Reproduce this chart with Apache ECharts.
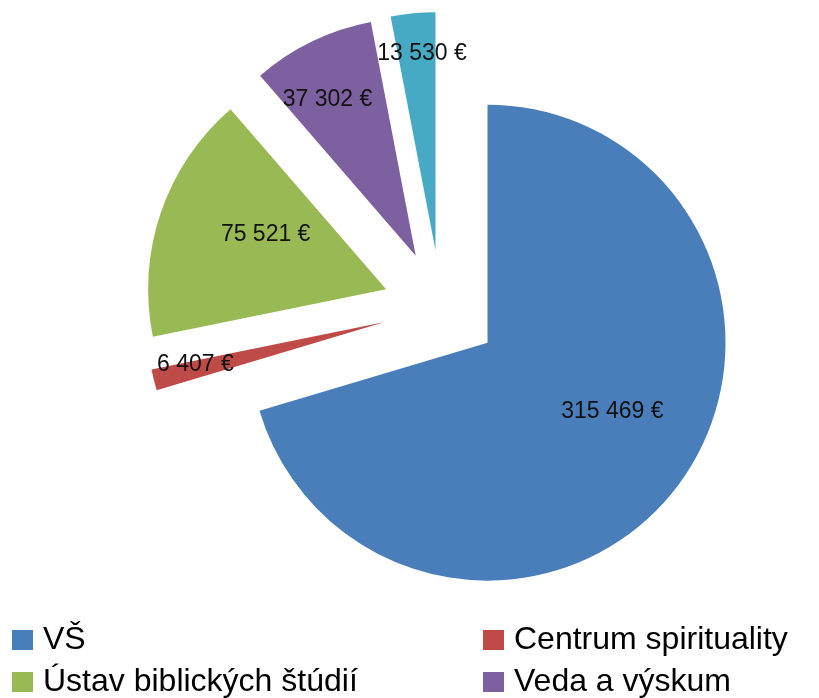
<!DOCTYPE html>
<html>
<head>
<meta charset="utf-8">
<script src="https://cdn.jsdelivr.net/npm/echarts@6/dist/echarts.min.js"></script>
<style>html,body{margin:0;padding:0;background:#fff}#chart{width:819px;height:698px}</style>
</head>
<body>
<div id="chart"></div>
<script>
// ---- data ----
var categories = ['VŠ', 'Centrum spirituality', 'Ústav biblických štúdií', 'Veda a výskum', 'Ostatné'];
var values = [315469, 6407, 75521, 37302, 13530];
var legendItems = ['VŠ', 'Centrum spirituality', 'Ústav biblických štúdií', 'Veda a výskum'];

// ---- styles ----
var colors = ['#4A7EBB', '#BE4B48', '#98B954', '#7D60A0', '#46AAC5'];
var labelShift = [[27, -4], [-71, 13], [-5, -15], [-35, -46], [-2, -75]];
var legendPos = [[7, 618], [478, 618], [7, 660], [478, 660]];
var FONT = '"Liberation Sans", Arial, sans-serif';

function fmt(v) {
  return String(v).replace(/\B(?=(\d{3})+(?!\d))/g, ' ') + ' €';
}

var chart = echarts.init(document.getElementById('chart'), null, {renderer: 'canvas'});
var legends = legendItems.map(function (name, i) {
  return {
    left: legendPos[i][0],
    top: legendPos[i][1],
    data: [name],
    itemWidth: 21,
    itemHeight: 20,
    icon: 'rect',
    selectedMode: false,
    textStyle: {fontFamily: FONT, fontSize: 32, color: '#000', lineHeight: 34, padding: [0, 0, 0, 5]}
  };
});
chart.setOption({
  animation: false,
  color: colors,
  legend: legends,
  series: [{
    type: 'pie',
    center: [441, 308],
    radius: [0, 238],
    startAngle: 90,
    clockwise: true,
    selectedMode: 'multiple',
    selectedOffset: 58,
    avoidLabelOverlap: false,
    emphasis: {disabled: true},
    select: {itemStyle: {borderWidth: 0}},
    itemStyle: {borderWidth: 0},
    label: {
      show: true,
      position: 'inside',
      fontFamily: FONT,
      fontSize: 23,
      color: '#111',
      formatter: function (p) { return fmt(p.value); }
    },
    labelLine: {show: false},
    labelLayout: function (p) {
      var s = labelShift[p.dataIndex];
      return {dx: s[0], dy: s[1]};
    },
    data: categories.map(function (c, i) {
      return {name: c, value: values[i], selected: true};
    })
  }]
});
</script>
</body>
</html>
